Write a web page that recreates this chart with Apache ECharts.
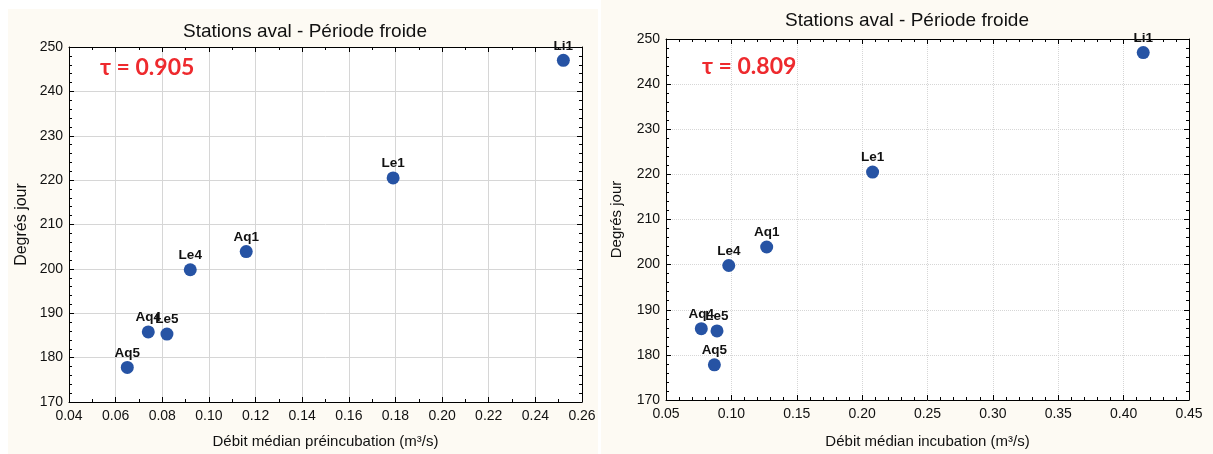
<!DOCTYPE html>
<html>
<head>
<meta charset="utf-8">
<script src="https://cdn.jsdelivr.net/npm/echarts@6/dist/echarts.min.js"></script>
<style>html,body{margin:0;padding:0;background:#fff}#c{width:1213px;height:454px}</style>
</head>
<body>
<div id="c"></div>
<script>
const stations = ['Li1','Le1','Aq1','Le4','Aq4','Le5','Aq5'];
const debitPreincubation = [0.252, 0.179, 0.116, 0.092, 0.074, 0.082, 0.065];
const debitIncubation = [0.415, 0.208, 0.127, 0.098, 0.077, 0.089, 0.087];
const degresJour = [247, 220.5, 203.9, 199.8, 185.8, 185.3, 177.8];
const tauLeft = 'τ = 0.905';
const tauRight = 'τ = 0.809';
const chartTitle = 'Stations aval - Période froide';
const xNameLeft = 'Débit médian préincubation (m³/s)';
const xNameRight = 'Débit médian incubation (m³/s)';
const yName = 'Degrés jour';

const FONT = '"Liberation Sans", Arial, sans-serif';
const chart = echarts.init(document.getElementById('c'), null, {renderer: 'canvas'});

function pts(xs) { return xs.map((x, i) => ({value: [x, degresJour[i]], name: stations[i]})); }

function xAxes(gi, min, max, interval, split, name, nameGap, dotted) {
  return [{
    type: 'value', gridIndex: gi, min, max, interval, position: 'bottom',
    name, nameLocation: 'middle', nameGap,
    nameTextStyle: {fontFamily: FONT, fontSize: 15, color: '#111'},
    axisLine: {show: true, onZero: false, lineStyle: {color: '#000', width: 1}},
    axisTick: {show: true, inside: true, length: 5, lineStyle: {color: '#000'}},
    minorTick: {show: true, splitNumber: split, length: 3, lineStyle: {color: '#000'}},
    axisLabel: {fontFamily: FONT, fontSize: 14, color: '#111', margin: 7, formatter: v => v.toFixed(2)},
    splitLine: {show: true, lineStyle: {color: '#d6d6d6', width: 1, type: dotted ? 'dotted' : 'solid'}}
  }, {
    type: 'value', gridIndex: gi, min, max, interval, position: 'top',
    axisLine: {show: true, onZero: false, lineStyle: {color: '#000', width: 1}},
    axisTick: {show: true, inside: true, length: 5, lineStyle: {color: '#000'}},
    minorTick: {show: true, splitNumber: split, length: 3, lineStyle: {color: '#000'}},
    axisLabel: {show: false}, splitLine: {show: false}
  }];
}
function yAxes(gi, nameSize, nameGap, dotted) {
  return [{
    type: 'value', gridIndex: gi, min: 170, max: 250, interval: 10, position: 'left',
    name: yName, nameLocation: 'middle', nameGap, nameRotate: 90,
    nameTextStyle: {fontFamily: FONT, fontSize: nameSize, color: '#111'},
    axisLine: {show: true, onZero: false, lineStyle: {color: '#000', width: 1}},
    axisTick: {show: true, inside: true, length: 5, lineStyle: {color: '#000'}},
    minorTick: {show: true, splitNumber: 5, length: 3, lineStyle: {color: '#000'}},
    axisLabel: {fontFamily: FONT, fontSize: 14, color: '#111', margin: 6},
    splitLine: {show: true, lineStyle: {color: '#d6d6d6', width: 1, type: dotted ? 'dotted' : 'solid'}}
  }, {
    type: 'value', gridIndex: gi, min: 170, max: 250, interval: 10, position: 'right',
    axisLine: {show: true, onZero: false, lineStyle: {color: '#000', width: 1}},
    axisTick: {show: true, inside: true, length: 5, lineStyle: {color: '#000'}},
    minorTick: {show: true, splitNumber: 5, length: 3, lineStyle: {color: '#000'}},
    axisLabel: {show: false}, splitLine: {show: false}
  }];
}

const labelCfg = {show: true, position: 'top', distance: 1, formatter: p => p.name,
  fontFamily: FONT, fontSize: 13.5, fontWeight: 'bold', color: '#111'};

chart.setOption({
  animation: false,
  backgroundColor: '#fff',
  graphic: [
    {type: 'rect', shape: {x: 8, y: 9, width: 590, height: 445}, style: {fill: '#fdfaf3'}, z: -10, silent: true},
    {type: 'rect', shape: {x: 601, y: 0, width: 612, height: 454}, style: {fill: '#fdfaf3'}, z: -10, silent: true}
  ],
  title: [
    {text: chartTitle, left: 300, top: 17, textAlign: 'center',
     textStyle: {fontFamily: FONT, fontSize: 19, fontWeight: 'normal', color: '#111'}},
    {text: chartTitle, left: 902, top: 6, textAlign: 'center',
     textStyle: {fontFamily: FONT, fontSize: 19, fontWeight: 'normal', color: '#111'}},
    {text: tauLeft, left: 95, top: 51,
     textStyle: {fontFamily: 'Lato, "Open Sans", sans-serif', fontSize: 23, fontWeight: 'bold', color: '#ee2a2e'}},
    {text: tauRight, left: 697, top: 50,
     textStyle: {fontFamily: 'Lato, "Open Sans", sans-serif', fontSize: 23, fontWeight: 'bold', color: '#ee2a2e'}}
  ],
  grid: [
    {left: 69, top: 47, width: 513, height: 356, show: true, backgroundColor: '#fff', borderWidth: 0},
    {left: 666, top: 39, width: 523, height: 363, show: true, backgroundColor: '#fff', borderWidth: 0}
  ],
  xAxis: [...xAxes(0, 0.04, 0.26, 0.02, 2, xNameLeft, 32, false), ...xAxes(1, 0.05, 0.45, 0.05, 5, xNameRight, 34, true)],
  yAxis: [...yAxes(0, 16, 39, false), ...yAxes(1, 15, 42, true)],
  series: [
    {type: 'scatter', xAxisIndex: 0, yAxisIndex: 0, data: pts(debitPreincubation), symbolSize: 13,
     itemStyle: {color: '#2653a4', opacity: 1}, label: labelCfg, labelLayout: {hideOverlap: false}},
    {type: 'scatter', xAxisIndex: 2, yAxisIndex: 2, data: pts(debitIncubation), symbolSize: 13,
     itemStyle: {color: '#2653a4', opacity: 1}, label: labelCfg, labelLayout: {hideOverlap: false}}
  ]
});
</script>
</body>
</html>
